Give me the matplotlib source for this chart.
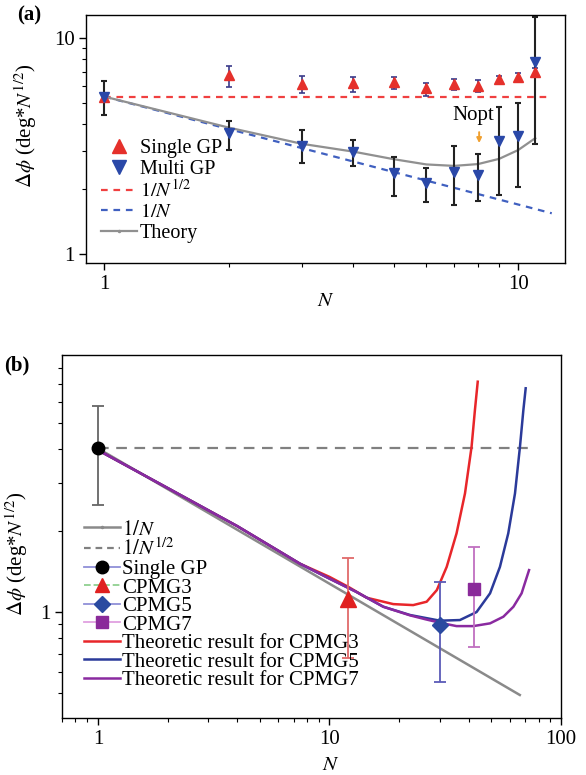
import numpy as np
import matplotlib.pyplot as plt
from matplotlib.lines import Line2D
from matplotlib.ticker import NullFormatter

plt.rcParams['font.family'] = ['Liberation Serif', 'DejaVu Serif']
plt.rcParams['mathtext.fontset'] = 'stix'

# ---- panel (a) data ----
n_a = [1, 2, 3, 4, 5, 6, 7, 8, 9, 10, 11]
single_a = [5.36, 6.76, 6.14, 6.18, 6.25, 5.86, 6.12, 6.03, 6.46, 6.60, 7.00]
single_a_hi = [6.34, 7.44, 6.69, 6.60, 6.63, 6.18, 6.47, 6.41, 6.69, 6.93, 7.26]
single_a_lo = [4.41, 5.93, 5.60, 5.66, 5.80, 5.40, 5.75, 5.66, 6.23, 6.30, 6.69]
multi_a = [5.36, 3.63, 3.18, 2.98, 2.37, 2.14, 2.41, 2.32, 3.35, 3.52, 7.79]
multi_a_hi = [6.34, 4.15, 3.76, 3.38, 2.81, 2.51, 3.15, 2.91, 4.82, 4.99, 12.5]
multi_a_lo = [4.41, 3.03, 2.63, 2.57, 1.86, 1.74, 1.69, 1.76, 1.88, 2.04, 3.24]
theory_a = [5.36, 3.85, 3.24, 2.98, 2.75, 2.60, 2.56, 2.61, 2.76, 3.03, 3.44]
ref_n_a = [1, 12.06]
sqrt_ref_a = [5.36, 5.36]
lin_ref_a = [5.36, 1.544]

# ---- panel (b) data ----
single_n_b = [1]
single_b = [4.04]
single_b_hi = [5.79]
single_b_lo = [2.49]
cpmg_n = [12, 30, 42]
cpmg_v = [1.114, 0.895, 1.214]
cpmg_hi = [1.59, 1.295, 1.736]
cpmg_lo = [0.674, 0.552, 0.744]
lin_n_b = [1, 66.4]
lin_ref_b = [4.04, 0.493]
sqrt_n_b = [1, 72]
sqrt_ref_b = [4.04, 4.04]

th3_n = [1, 2, 4, 7.46, 10, 12.18, 14.47, 18.87, 23.0, 26.3, 29.1, 32.1, 35.4, 38.5, 41.1, 42.5, 43.7]
th3_v = [3.98, 2.88, 2.08, 1.51, 1.35, 1.234, 1.13, 1.07, 1.061, 1.092, 1.206, 1.47, 1.956, 2.75, 4.09, 5.6, 7.13]
th5_n = [1, 2, 4, 7.46, 10, 13, 17.1, 22.3, 30.0, 36.6, 43.2, 49.4, 54.5, 59.2, 63.3, 66.5, 68.8, 70.4]
th5_v = [3.98, 2.88, 2.08, 1.51, 1.33, 1.19, 1.046, 0.975, 0.929, 0.934, 1.0, 1.173, 1.47, 1.956, 2.75, 4.09, 5.6, 6.74]
th7_n = [1, 2, 4, 7.46, 10, 13, 17.1, 22.3, 26.0, 30.0, 35.4, 41.8, 49.4, 56.4, 62.3, 67.6, 72.8]
th7_v = [3.98, 2.88, 2.08, 1.51, 1.33, 1.19, 1.046, 0.972, 0.94, 0.913, 0.887, 0.887, 0.908, 0.961, 1.046, 1.173, 1.43]

fs = 15
red = '#e5302b'
blue = '#2a48a8'

fig = plt.figure(figsize=(5.86, 7.75), dpi=100)
ax1 = fig.add_axes([0.1476, 0.6606, 0.817, 0.320])
ax2 = fig.add_axes([0.1058, 0.0735, 0.8515, 0.4684])

# ---- (a) ----
ax1.plot(ref_n_a, sqrt_ref_a, color='#f04040', lw=1.6, dashes=(3, 2.6))
ax1.plot(ref_n_a, lin_ref_a, color='#4060c0', lw=1.6, dashes=(3, 2.6))
ax1.plot(n_a, theory_a, color='#909090', lw=1.6)
s = np.array(single_a)
ax1.errorbar(n_a, single_a, yerr=[s - np.array(single_a_lo), np.array(single_a_hi) - s],
             fmt='none', ecolor='#3b3b8a', elinewidth=1.2, capsize=2.5, capthick=1.2)
m = np.array(multi_a)
ax1.errorbar(n_a, multi_a, yerr=[m - np.array(multi_a_lo), np.array(multi_a_hi) - m],
             fmt='none', ecolor='#222222', elinewidth=1.5, capsize=2.5, capthick=1.5)
ax1.plot(n_a, single_a, ls='none', marker='^', ms=6.5, color=red)
ax1.plot(n_a, multi_a, ls='none', marker='v', ms=6.5, color=blue)

ax1.text(7.8, 4.4, 'Nopt', fontsize=fs, ha='center', va='center')
ax1.annotate('', xy=(8.05, 3.17), xytext=(8.05, 3.78),
             arrowprops=dict(arrowstyle='-|>', color='#f0a030', lw=1.4, mutation_scale=7))

ax1.set_xscale('log')
ax1.set_yscale('log')
ax1.set_xlim(0.905, 13.0)
ax1.set_ylim(0.908, 12.8)
ax1.set_xticks([1, 10], ['1', '10'])
ax1.set_yticks([1, 10], ['1', '10'])
ax1.set_xlabel('$N$', fontsize=fs)
ax1.set_ylabel(r'$\Delta\phi$ (deg*$N^{1/2}$)', fontsize=fs)
ax1.xaxis.set_label_coords(0.50, -0.115)
ax1.yaxis.set_label_coords(-0.10, 0.552)

h_a = [Line2D([], [], ls='none', marker='^', ms=10, color=red),
       Line2D([], [], ls='none', marker='v', ms=10, color=blue),
       Line2D([], [], color='#f04040', lw=1.6, dashes=(3, 2.6)),
       Line2D([], [], color='#4060c0', lw=1.6, dashes=(3, 2.6)),
       Line2D([], [], color='#909090', lw=1.6, marker='.', ms=3)]
l_a = ['Single GP', 'Multi GP', '$1/N^{1/2}$', '$1/N$', 'Theory']
ax1.legend(h_a, l_a, loc='upper left', bbox_to_anchor=(0.03, 0.50), frameon=False,
           fontsize=fs - 0.5, borderpad=0, borderaxespad=0, handlelength=1.8,
           handletextpad=0.15, labelspacing=0.07)

# ---- (b) ----
ax2.plot(sqrt_n_b, sqrt_ref_b, color='#808080', lw=1.6, dashes=(4.8, 3.4))
ax2.plot(lin_n_b, lin_ref_b, color='#8a8a8a', lw=1.8)
ax2.plot(th3_n, th3_v, color='#e8262a', lw=1.8)
ax2.plot(th5_n, th5_v, color='#2b3a9a', lw=1.8)
ax2.plot(th7_n, th7_v, color='#8a2aa0', lw=1.8)

sb = np.array(single_b)
ax2.errorbar(single_n_b, single_b, yerr=[sb - np.array(single_b_lo), np.array(single_b_hi) - sb],
             fmt='o', color='black', ms=9, ecolor='#666666', elinewidth=1.3, capsize=4, capthick=1.3)
cv = np.array(cpmg_v)
cerr = [cv - np.array(cpmg_lo), np.array(cpmg_hi) - cv]
cpmg_marker = ['^', 'D', 's']
cpmg_color = ['#e02020', '#2a4aa0', '#8a2a9a']
cpmg_ecolor = ['#e06a6a', '#5a5ab8', '#c070c0']
cpmg_ms = [11, 8, 8]
for i in range(3):
    ax2.errorbar(cpmg_n[i], cpmg_v[i], yerr=[[cerr[0][i]], [cerr[1][i]]], fmt=cpmg_marker[i],
                 color=cpmg_color[i], ms=cpmg_ms[i], ecolor=cpmg_ecolor[i], elinewidth=1.3,
                 capsize=4, capthick=1.3)

ax2.set_xscale('log')
ax2.set_yscale('log')
ax2.set_xlim(0.70, 100)
ax2.set_ylim(0.405, 8.95)
ax2.set_xticks([1, 10, 100], ['1', '10', '100'])
ax2.set_yticks([1], ['1'])
ax2.set_xlabel('$N$', fontsize=fs)
ax2.set_ylabel(r'$\Delta\phi$ (deg*$N^{1/2}$)', fontsize=fs)
ax2.xaxis.set_label_coords(0.539, -0.105)
ax2.yaxis.set_label_coords(-0.064, 0.452)

h_b = [Line2D([], [], color='#8a8a8a', lw=1.8, marker='.', ms=3),
       Line2D([], [], color='#808080', lw=1.6, dashes=(3, 2.2)),
       Line2D([], [], color='#9090d8', lw=1.3, marker='o', ms=9, mfc='black', mec='black'),
       Line2D([], [], color='#90d090', lw=1.3, ls='--', marker='^', ms=10, mfc='#e02020', mec='#e02020'),
       Line2D([], [], color='#9090d8', lw=1.3, marker='D', ms=8, mfc='#2a4aa0', mec='#2a4aa0'),
       Line2D([], [], color='#e0a0e0', lw=1.3, marker='s', ms=8, mfc='#8a2a9a', mec='#8a2a9a'),
       Line2D([], [], color='#e8262a', lw=1.8),
       Line2D([], [], color='#2b3a9a', lw=1.8),
       Line2D([], [], color='#8a2aa0', lw=1.8)]
l_b = ['$1/N$', '$1/N^{1/2}$', 'Single GP', 'CPMG3', 'CPMG5', 'CPMG7',
       'Theoretic result for CPMG3', 'Theoretic result for CPMG5', 'Theoretic result for CPMG7']
ax2.legend(h_b, l_b, loc='upper left', bbox_to_anchor=(0.044, 0.545), frameon=False,
           fontsize=fs, borderpad=0, borderaxespad=0, handlelength=1.75,
           handletextpad=0.1, labelspacing=-0.05)

for ax in (ax1, ax2):
    ax.xaxis.set_minor_formatter(NullFormatter())
    ax.yaxis.set_minor_formatter(NullFormatter())
    ax.tick_params(which='both', direction='out', top=False, right=False, labelsize=fs)
    ax.tick_params(which='major', length=5, width=1)
    ax.tick_params(which='minor', length=3, width=0.8)
    for sp in ax.spines.values():
        sp.set_linewidth(1.0)

fig.text(17 / 586, 1 - 15 / 775, '(a)', fontsize=fs, weight='bold', va='center')
fig.text(4 / 586, 1 - 365 / 775, '(b)', fontsize=fs, weight='bold', va='center')

fig.savefig('out.png', dpi=100)
